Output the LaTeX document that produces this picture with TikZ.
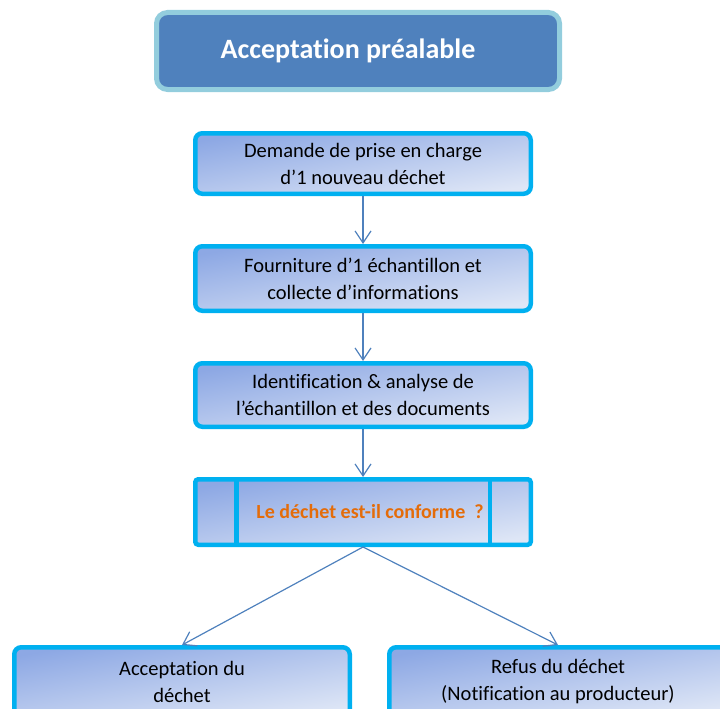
\documentclass[tikz,border=0pt]{standalone}
\usepackage{fontspec}
\setmainfont{Carlito}[Ligatures=NoCommon]
\usetikzlibrary{arrows.meta}
\definecolor{cyanb}{HTML}{00B0F0}
\definecolor{titlefill}{HTML}{4F81BD}
\definecolor{titleborder}{HTML}{93CDDD}
\definecolor{gdark}{RGB}{141,168,228}
\definecolor{glight}{RGB}{222,230,246}
\definecolor{arrowc}{HTML}{4F81BD}
\definecolor{orangetxt}{HTML}{E46C0A}
\newcommand\bxfont{\fontsize{20.5}{27}\selectfont}
\newcommand\ttlfont{\fontsize{28}{32}\selectfont\bfseries}
\newcommand\decfont{\fontsize{20}{27}\selectfont\bfseries}
\tikzset{
  stepbox/.style={draw=cyanb, line width=4.5pt, rounded corners=7pt,
    top color=gdark, bottom color=glight, shading angle=10,
    minimum width=335.5pt, inner sep=0pt, align=center, font=\bxfont, text=black},
  decbox/.style={stepbox, rounded corners=3pt, font=\decfont, text=orangetxt},
  titlebox/.style={draw=titleborder, line width=5pt, fill=titlefill, rounded corners=11pt,
    minimum width=403pt, minimum height=77pt, inner sep=0pt, font=\ttlfont, text=white},
  flow/.style={draw=arrowc, line width=1.2pt, -{Straight Barb[length=12pt,width=16pt,line width=1.2pt]}},
  sepline/.style={draw=cyanb, line width=4.5pt}
}
\begin{document}
\begin{tikzpicture}[x=1pt,y=-1pt]
\useasboundingbox (0,0) rectangle (720,709);
\node[titlebox] (title) at (358,51) {Acceptation préalable\hspace*{20pt}};
\node[stepbox, minimum height=60.5pt] (b1) at (363,163.5) {Demande de prise en charge\\d’1 nouveau déchet};
\node[stepbox, minimum height=64.5pt] (b2) at (363,278.5) {Fourniture d’1 échantillon et\\collecte d’informations};
\node[stepbox, minimum height=63.5pt] (b3) at (363,395) {Identification \& analyse de\\l’échantillon et des documents};
\node[decbox, minimum height=65.5pt] (dec) at (363,512) {\hspace*{14pt}Le déchet est-il conforme~~?};
\draw[sepline] ([xshift=43.5pt]dec.north west) -- ([xshift=43.5pt]dec.south west);
\draw[sepline] ([xshift=-43pt]dec.north east) -- ([xshift=-43pt]dec.south east);
\node[stepbox, minimum height=69.5pt] (acc) at (182,682) {Acceptation du\\déchet};
\node[stepbox, minimum height=69.5pt, minimum width=337.5pt] (ref) at (558,682) {Refus du déchet\\(Notification au producteur)};
\draw[flow] (b1.south) -- (b2.north);
\draw[flow] (b2.south) -- (b3.north);
\draw[flow] (b3.south) -- (dec.north);
\draw[flow] (dec.south) -- (acc.north);
\draw[flow] (dec.south) -- (ref.north);
\end{tikzpicture}
\end{document}
